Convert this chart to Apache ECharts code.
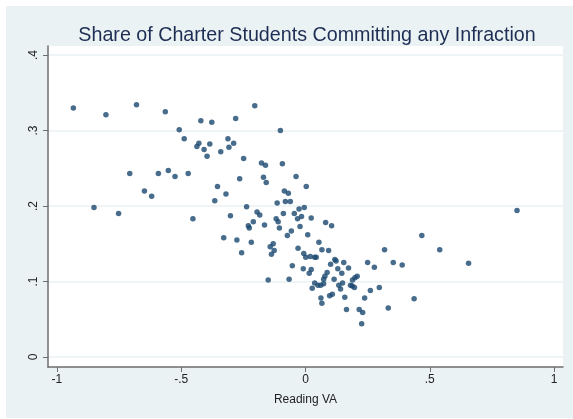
<!DOCTYPE html>
<html>
<head>
<meta charset="utf-8">
<script src="https://cdn.jsdelivr.net/npm/echarts@6/dist/echarts.min.js"></script>
<style>html,body{margin:0;padding:0;background:#fff;}#c{width:573px;height:419px;}</style>
</head>
<body>
<div id="c"></div>
<script>
var xTicks = [-1, -0.5, 0, 0.5, 1];
var yTicks = [0, 0.1, 0.2, 0.3, 0.4];
var readingVA = [
-0.934,-0.803,-0.680,-0.564,-0.421,-0.377,-0.508,-0.488,-0.429,-0.437,-0.408,-0.385,-0.396,-0.707,-0.592,-0.552,-0.525,-0.472,-0.648,-0.619,-0.354,-0.365,-0.851,-0.752,-0.453,
-0.281,-0.204,-0.101,-0.312,-0.289,-0.308,-0.341,-0.249,-0.177,-0.161,-0.093,-0.169,-0.158,-0.038,-0.265,-0.320,-0.085,-0.069,0.003,-0.114,-0.081,-0.061,-0.237,-0.026,-0.005,-0.195,-0.184,-0.045,-0.302,-0.118,-0.110,-0.032,-0.016,-0.089,0.023,-0.210,-0.165,-0.230,-0.226,-0.105,0.081,0.105,-0.022,
-0.057,0.009,-0.073,-0.329,-0.276,-0.218,-0.130,-0.142,-0.126,-0.137,-0.257,-0.030,0.054,0.066,0.093,-0.007,0.001,0.019,0.037,0.043,0.118,0.123,0.101,0.154,-0.053,-0.009,0.023,0.015,0.087,0.078,0.130,0.173,0.146,0.250,0.277,-0.066,-0.150,0.115,0.199,0.208,
0.073,0.149,0.134,0.141,0.189,0.181,0.188,0.197,0.037,0.050,0.061,0.073,0.027,0.062,0.066,0.097,0.108,0.158,0.165,0.216,0.230,0.226,0.238,0.261,0.297,0.333,0.318,0.353,0.389,
0.851,0.468,0.540,0.656,0.437
];
var infractionShare = [
0.330,0.321,0.334,0.325,0.313,0.311,0.301,0.289,0.283,0.279,0.275,0.282,0.266,0.243,0.243,0.247,0.239,0.243,0.220,0.213,0.226,0.207,0.198,0.190,0.183,
0.316,0.333,0.300,0.289,0.283,0.278,0.272,0.263,0.257,0.254,0.256,0.238,0.231,0.239,0.236,0.216,0.220,0.217,0.226,0.204,0.206,0.206,0.199,0.196,0.198,0.192,0.188,0.190,0.187,0.183,0.179,0.183,0.186,0.190,0.184,0.179,0.175,0.174,0.171,0.171,0.178,0.174,0.173,
0.167,0.162,0.161,0.158,0.155,0.152,0.150,0.146,0.141,0.136,0.138,0.144,0.152,0.142,0.141,0.137,0.132,0.133,0.132,0.132,0.129,0.127,0.123,0.125,0.121,0.117,0.116,0.111,0.112,0.107,0.117,0.118,0.111,0.125,0.119,0.103,0.102,0.103,0.105,0.107,
0.103,0.098,0.095,0.090,0.102,0.095,0.094,0.092,0.098,0.095,0.095,0.097,0.091,0.078,0.071,0.081,0.083,0.079,0.063,0.063,0.059,0.044,0.078,0.088,0.092,0.065,0.142,0.125,0.122,
0.194,0.161,0.142,0.124,0.077
];
var titleText = 'Share of Charter Students Committing any Infraction';
var xTitle = 'Reading VA';

function fmt(v){
  var s = String(Math.round(v*10)/10);
  return s.replace(/^0\./,'.').replace(/^-0\./,'-.');
}
var pts = readingVA.map(function(x,i){return [x, infractionShare[i]];});

var chart = echarts.init(document.getElementById('c'), null, {renderer:'canvas'});
var font = 'Liberation Sans, Arial, sans-serif';
chart.setOption({
  animation:false,
  backgroundColor:'#ffffff',
  graphic:[{type:'rect', z:-10, silent:true, shape:{x:6,y:6,width:567,height:412}, style:{fill:'#EAF2F3'}},
           {type:'rect', z:-9, silent:true, shape:{x:48,y:46,width:515,height:321}, style:{fill:'#ffffff'}}],
  title:{text:titleText, left:302, top:21, textAlign:'center',
    textStyle:{fontFamily:font, fontSize:19.7, fontWeight:'normal', color:'#1E2D53'}},
  grid:{left:48, right:10, top:46, bottom:52, containLabel:false},
  xAxis:{type:'value', min:-1.036, max:1.036,
    name:xTitle, nameLocation:'middle', nameGap:27,
    nameTextStyle:{fontFamily:font, fontSize:12, color:'#222'},
    axisLine:{show:true, onZero:false, lineStyle:{color:'#6E6E6E', width:1.5}},
    axisTick:{show:true, length:5, lineStyle:{color:'#6E6E6E'}, customValues:xTicks},
    axisLabel:{customValues:xTicks, formatter:fmt, fontFamily:font, fontSize:12, color:'#222', margin:7},
    splitLine:{show:false}},
  yAxis:{type:'value', min:-0.0133, max:0.412,
    axisLine:{show:true, onZero:false, lineStyle:{color:'#6E6E6E', width:1.5}},
    axisTick:{show:true, length:5, lineStyle:{color:'#6E6E6E'}, customValues:yTicks},
    axisLabel:{customValues:yTicks, formatter:fmt, rotate:90, fontFamily:font, fontSize:12, color:'#222', margin:8},
    splitLine:{show:true, lineStyle:{color:'#EAF2F3', width:1.5}}},
  series:[{type:'scatter', data:pts, symbol:'circle', symbolSize:5.5,
    itemStyle:{color:'#1A476F'}}]
});
</script>
</body>
</html>
